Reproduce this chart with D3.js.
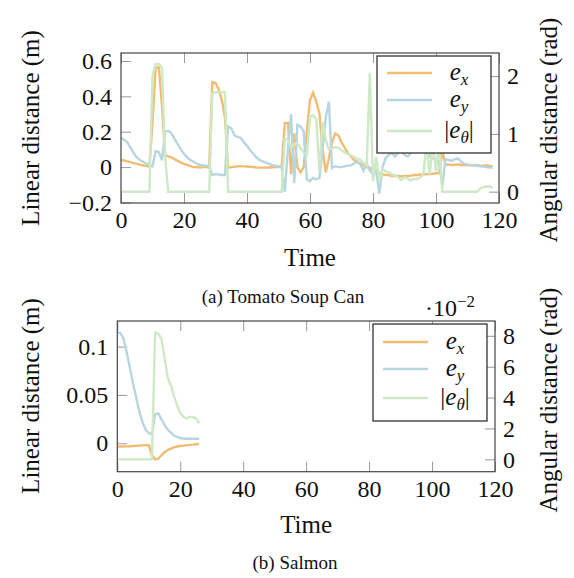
<!DOCTYPE html>
<html>
<head>
<meta charset="utf-8">
<script src="https://cdn.jsdelivr.net/npm/d3@7"></script>
<style>
  body { margin: 0; background: #fff; }
  svg { display: block; }
  text { font-family: "Liberation Serif", "Times New Roman", serif; fill: #111; }
</style>
</head>
<body>
<script>
// time axis ticks (shared by both panels)
var xTicks = [0, 20, 40, 60, 80, 100, 120];

// (a) Tomato Soup Can, one value per time step 0..118
var soupEx = [
  0.04, 0.037, 0.032, 0.028, 0.022, 0.018, 0.014, 0.01, 0.006, 0.003,
  0.25, 0.56, 0.565, 0.35, 0.07, 0.06, 0.055, 0.045, 0.035, 0.025,
  0.018, 0.012, 0.006, 0.0, 0.0, -0.002, 0.0, 0.0, -0.002, 0.48,
  0.475, 0.44, 0.38, 0.28, -0.005, 0.0, 0.002, 0.004, 0.005, 0.004,
  0.003, 0.002, 0.0, -0.002, -0.003, -0.003, -0.002, -0.002, -0.001, 0.0,
  0.0, 0.0, 0.25, 0.25, -0.04, 0.19, 0.0, -0.03, 0.0, 0.2,
  0.38, 0.42, 0.37, 0.3, 0.1, -0.03, 0.05, 0.14, 0.19, 0.18,
  0.14, 0.11, 0.08, 0.06, 0.04, 0.03, 0.02, 0.01, 0.0, -0.005,
  -0.01, -0.02, -0.035, -0.04, -0.045, -0.045, -0.05, -0.05, -0.05, -0.052,
  -0.05, -0.05, -0.048, -0.045, -0.045, -0.042, -0.042, -0.04, -0.04, -0.038,
  -0.035, -0.035, 0.09, 0.012, 0.015, 0.012, 0.013, 0.015, 0.012, 0.012,
  0.01, 0.012, 0.01, 0.01, 0.008, 0.008, 0.01, 0.006, 0.005
];
var soupEy = [
  0.165, 0.155, 0.14, 0.11, 0.08, 0.055, 0.04, 0.03, 0.02, 0.01,
  0.005, 0.09, 0.085, 0.04, 0.2, 0.205, 0.19, 0.16, 0.13, 0.1,
  0.075, 0.055, 0.04, 0.03, 0.02, 0.012, 0.01, 0.008, 0.005, -0.045,
  -0.04, -0.042, -0.045, -0.045, 0.23, 0.22, 0.18, 0.17, 0.165, 0.14,
  0.12, 0.095, 0.075, 0.055, 0.04, 0.032, 0.025, 0.018, 0.012, 0.008,
  0.005, 0.003, -0.14, 0.1, 0.3, -0.09, 0.24, 0.23, 0.2, -0.07,
  -0.08, -0.06, -0.07, -0.06, 0.1, 0.28, 0.37, -0.005, 0.005, 0.0,
  0.0, 0.005, 0.008, 0.01, 0.02, 0.03, 0.015, -0.02, 0.02, -0.02,
  -0.04, -0.02, -0.15, 0.0, 0.05, 0.07, 0.08, 0.06, 0.08, 0.09,
  0.07, 0.06, 0.08, 0.1, 0.12, 0.2, 0.1, 0.18, 0.06, 0.05,
  0.04, 0.03, -0.11, 0.045, 0.04, 0.035, 0.045, 0.05, 0.03, 0.02,
  0.015, 0.012, 0.01, 0.008, 0.005, 0.003, 0.0, -0.002, -0.003
];
var soupTheta = [
  0, 0, 0, 0, 0, 0, 0, 0, 0, 0,
  2.0, 2.21, 2.21, 2.15, 0.6, 0, 0, 0, 0, 0,
  0, 0, 0, 0, 0, 0, 0, 0, 0, 1.7,
  1.72, 1.72, 1.72, 1.72, 0, 0, 0, 0, 0, 0,
  0, 0, 0, 0, 0, 0, 0, 0, 0, 0,
  0, 0, 0.92, 0.9, 0.75, 0.82, 0.84, 0.75, 0.68, 0.64,
  1.3, 1.32, 1.25, 0.35, 1.2, 0.9, 0.73, 0.75, 0.77, 0.76,
  0.72, 0.68, 0.65, 0.63, 0.6, 0.57, 0.55, 0.5, 0.45, 2.05,
  0.18, 0.6, 0.18, 0.4, 0.35, 0.33, 0.3, 0.28, 0.25, 0.2,
  0.25, 0.22, 0.2, 0.22, 0.22, 0.25, 0.3, 0.85, 0.3, 0.85,
  0.35, 0.88, 0, 0, 0, 0, 0, 0, 0, 0,
  0, 0, 0, 0, 0.05, 0.08, 0.09, 0.09, 0.07
];
var soupLeftTicks = [-0.2, 0, 0.2, 0.4, 0.6];
var soupRightTicks = [0, 1, 2];

// (b) Salmon, time steps 0..26 (angle in units of 10^-2 rad)
var salmonEx = [
  -0.0035, -0.0034, -0.0033, -0.0032, -0.003, -0.0028, -0.0026, -0.0024, -0.0022, -0.002,
  -0.0018, -0.012, -0.0166, -0.016, -0.0125, -0.0093, -0.007, -0.0055, -0.0042, -0.0033,
  -0.0028, -0.0024, -0.002, -0.0017, -0.0014, -0.001, -0.0008
];
var salmonEy = [
  0.1144, 0.1142, 0.108, 0.094, 0.078, 0.062, 0.047, 0.033, 0.022, 0.014,
  0.0105, 0.009, 0.03, 0.031, 0.025, 0.019, 0.014, 0.011, 0.008, 0.0065,
  0.0055, 0.0048, 0.0047, 0.0047, 0.0047, 0.0047, 0.0047
];
var salmonTheta = [
  0, 0, 0, 0, 0, 0, 0, 0, 0, 0,
  0, 0, 8.2, 8.15, 7.8, 6.6, 5.3, 4.8, 4.1, 3.5,
  3.0, 2.75, 2.65, 2.75, 2.75, 2.65, 2.35
];
var salmonLeftTicks = [0, 0.05, 0.1];
var salmonRightTicks = [0, 2, 4, 6, 8];

var seriesColors = ["#f1bd74", "#b7d6e0", "#cfe8c5"];
var legendSubs = ["x", "y", "\u03b8"];

var svg = d3.select("body").append("svg")
  .attr("width", 574)
  .attr("height", 578);

function minus(s) { return String(s).replace("-", "\u2212"); }

function drawPanel(p) {
  var x = d3.scaleLinear().domain([0, 120]).range([p.left, p.right]);
  var yL = d3.scaleLinear().domain(p.yLeft).range([p.bottom, p.top]);
  var yR = d3.scaleLinear().domain(p.yRight).range([p.bottom, p.top]);
  var g = svg.append("g");

  // ticks (pgfplots style, pointing inward)
  var styleAxis = function (sel) {
    sel.select(".domain").remove();
    sel.selectAll(".tick line").attr("stroke", "#999").attr("stroke-width", 1);
    sel.selectAll(".tick text").attr("font-size", 24).attr("fill", "#111")
      .attr("font-family", "Liberation Serif, serif");
  };
  g.append("g").attr("transform", "translate(0," + p.bottom + ")")
    .call(d3.axisBottom(x).tickValues(xTicks).tickSize(-10).tickPadding(8))
    .call(styleAxis);
  g.append("g").attr("transform", "translate(0," + p.top + ")")
    .call(d3.axisTop(x).tickValues(xTicks).tickSize(-10).tickFormat(""))
    .call(styleAxis);
  g.append("g").attr("transform", "translate(" + p.left + ",0)")
    .call(d3.axisLeft(yL).tickValues(p.leftTicks).tickSize(-10).tickPadding(9)
      .tickFormat(function (d) { return minus(d); }))
    .call(styleAxis);
  g.append("g").attr("transform", "translate(" + p.right + ",0)")
    .call(d3.axisRight(yR).tickValues(p.rightTicks).tickSize(-10).tickPadding(8)
      .tickFormat(function (d) { return minus(d); }))
    .call(styleAxis);

  // series
  var lineL = d3.line().x(function (d, i) { return x(i); }).y(function (d) { return yL(d); });
  var lineR = d3.line().x(function (d, i) { return x(i); }).y(function (d) { return yR(d); });
  g.append("path").datum(p.ex).attr("d", lineL)
    .attr("fill", "none").attr("stroke", seriesColors[0]).attr("stroke-width", 2.4);
  g.append("path").datum(p.ey).attr("d", lineL)
    .attr("fill", "none").attr("stroke", seriesColors[1]).attr("stroke-width", 2.4);
  g.append("path").datum(p.theta).attr("d", lineR)
    .attr("fill", "none").attr("stroke", seriesColors[2]).attr("stroke-width", 2.4);

  // frame
  g.append("rect")
    .attr("x", p.left).attr("y", p.top)
    .attr("width", p.right - p.left).attr("height", p.bottom - p.top)
    .attr("fill", "none").attr("stroke", "#444").attr("stroke-width", 1.2);

  // legend
  var lg = g.append("g");
  lg.append("rect")
    .attr("x", p.legend.x).attr("y", p.legend.y)
    .attr("width", p.legend.w).attr("height", p.legend.h)
    .attr("fill", "#fff").attr("stroke", "#222").attr("stroke-width", 1.2);
  legendSubs.forEach(function (sub, i) {
    var ly = p.legend.rows[i];
    lg.append("line")
      .attr("x1", p.legend.x + 10).attr("x2", p.legend.x + 55)
      .attr("y1", ly).attr("y2", ly)
      .attr("stroke", seriesColors[i]).attr("stroke-width", 2.6);
    var t = lg.append("text")
      .attr("x", p.legend.x + 82).attr("y", ly + 7)
      .attr("text-anchor", "middle").attr("font-size", 25);
    if (i === 2) t.append("tspan").text("|");
    t.append("tspan").attr("font-style", "italic").text("e");
    t.append("tspan").attr("font-style", "italic").attr("font-size", 17)
      .attr("dy", 5).text(sub);
    if (i === 2) t.append("tspan").attr("dy", -5).text("|");
  });

  // axis titles and caption
  g.append("text").attr("x", (p.left + p.right) / 2).attr("y", p.timeY)
    .attr("text-anchor", "middle").attr("font-size", 25).text("Time");
  g.append("text")
    .attr("transform", "translate(39," + p.leftLabelY + ") rotate(-90)")
    .attr("text-anchor", "middle").attr("font-size", 25).text("Linear distance (m)");
  g.append("text")
    .attr("transform", "translate(557," + p.rightLabelY + ") rotate(-90)")
    .attr("text-anchor", "middle").attr("font-size", 25).text("Angular distance (rad)");
  g.append("text").attr("x", p.captionX).attr("y", p.captionY)
    .attr("text-anchor", "middle").attr("font-size", 19).text(p.caption);
}

drawPanel({
  left: 121, right: 499, top: 53, bottom: 203,
  yLeft: [-0.203, 0.645], yRight: [-0.196, 2.40],
  leftTicks: soupLeftTicks, rightTicks: soupRightTicks,
  ex: soupEx, ey: soupEy, theta: soupTheta,
  legend: { x: 377, y: 56, w: 114, h: 97, rows: [73, 100, 131] },
  timeY: 266, leftLabelY: 128, rightLabelY: 130,
  caption: "(a) Tomato Soup Can", captionX: 283, captionY: 303
});

drawPanel({
  left: 117.3, right: 495, top: 321, bottom: 471.7,
  yLeft: [-0.0294, 0.1265], yRight: [-0.8, 8.96],
  leftTicks: salmonLeftTicks, rightTicks: salmonRightTicks,
  ex: salmonEx, ey: salmonEy, theta: salmonTheta,
  legend: { x: 373, y: 324, w: 114, h: 97, rows: [342, 369, 398] },
  timeY: 533, leftLabelY: 396, rightLabelY: 400,
  caption: "(b) Salmon", captionX: 295, captionY: 569
});

// scale factor of the salmon angle axis
var expo = svg.append("text").attr("x", 425).attr("y", 316).attr("font-size", 24);
expo.append("tspan").text("\u00b710");
expo.append("tspan").attr("font-size", 17).attr("dy", -9).text("\u22122");
</script>
</body>
</html>
